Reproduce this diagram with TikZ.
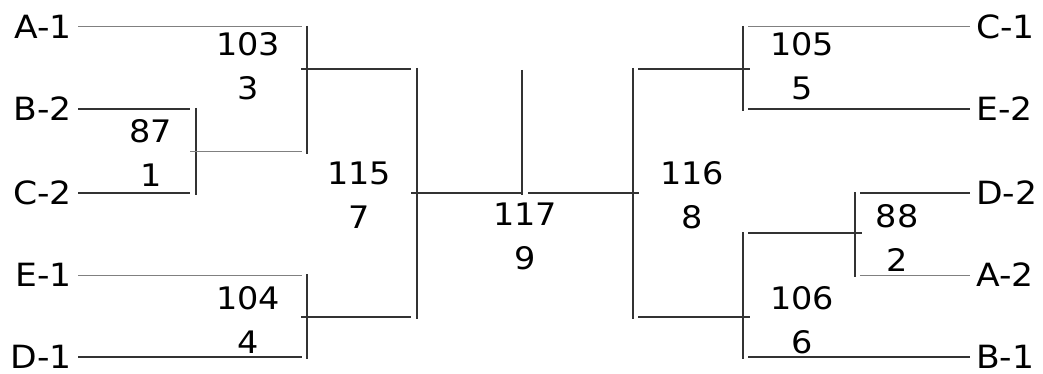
\documentclass[tikz,border=0pt]{standalone}
\usepackage{fontspec}
\setmainfont[FakeStretch=1.08]{DejaVu Sans}
\usetikzlibrary{positioning}

\begin{document}
\begin{tikzpicture}[x=1pt, y=-1pt,
    team/.style={inner xsep=6pt, inner ysep=1pt, font=\fontsize{32}{38}\selectfont},
    score/.style={align=center, inner sep=0pt, font=\fontsize{31}{44}\selectfont},
    bline/.style={draw=black!80, line width=1.1pt},
    lline/.style={draw=black!50, line width=1pt},
    vline/.style={bline, shorten <=-1pt, shorten >=-2pt},
]
    \useasboundingbox (0,0) rectangle (1043,374);

    % teams
    \node[team, anchor=east] (a1) at (78,27) {A-1};
    \node[team, anchor=east] (b2) at (78,109) {B-2};
    \node[team, anchor=east] (c2) at (78,193) {C-2};
    \node[team, anchor=east] (e1) at (78,275) {E-1};
    \node[team, anchor=east] (d1) at (78,357) {D-1};
    \node[team, anchor=west] (c1) at (970,27) {C-1};
    \node[team, anchor=west] (e2) at (970,109) {E-2};
    \node[team, anchor=west] (d2) at (970,193) {D-2};
    \node[team, anchor=west] (a2) at (970,275) {A-2};
    \node[team, anchor=west] (b1) at (970,357) {B-1};

    % scores
    \node[score] (s87) at (151,153) {87\\1};
    \node[score] (s103) at (248,66) {103\\3};
    \node[score] (s104) at (248,320) {104\\4};
    \node[score] (s115) at (359,195) {115\\7};
    \node[score] (s117) at (525,236) {117\\9};
    \node[score] (s116) at (692,195) {116\\8};
    \node[score] (s105) at (802,66) {105\\5};
    \node[score] (s106) at (802,320) {106\\6};
    \node[score] (s88) at (897,238) {88\\2};

    % bracket joints
    \coordinate (m87t) at (196,109); \coordinate (m87b) at (196,193); \coordinate (m87o) at (196,152);
    \coordinate (m103t) at (307,27); \coordinate (m103b) at (307,152); \coordinate (m103o) at (307,69);
    \coordinate (m104t) at (307,275); \coordinate (m104b) at (307,357); \coordinate (m104o) at (307,317);
    \coordinate (m115t) at (417,69); \coordinate (m115b) at (417,317); \coordinate (m115o) at (417,193);
    \coordinate (m117t) at (522,71); \coordinate (m117b) at (522,193);
    \coordinate (m116t) at (633,69); \coordinate (m116b) at (633,317); \coordinate (m116o) at (633,193);
    \coordinate (m105t) at (743,27); \coordinate (m105b) at (743,109); \coordinate (m105o) at (743,69);
    \coordinate (m106t) at (743,233); \coordinate (m106b) at (743,357); \coordinate (m106o) at (743,317);
    \coordinate (m88t) at (855,193); \coordinate (m88b) at (855,275); \coordinate (m88o) at (855,233);

    \foreach \m in {87,103,104,115,117,116,105,106,88}
        \draw[vline] (m\m t) -- (m\m b);

    % left half
    \draw[lline] (a1.east) -- ([xshift=-5pt]m103t);
    \draw[bline] (b2.east) -- ([xshift=-6pt]m87t);
    \draw[bline] (c2.east) -- ([xshift=-6pt]m87b);
    \draw[lline] (e1.east) -- ([xshift=-5pt]m104t);
    \draw[bline] (d1.east) -- ([xshift=-5pt]m104b);
    \draw[lline] ([xshift=-6pt]m87o) -- ([xshift=-5pt]m103b);
    \draw[bline] ([xshift=-6pt]m103o) -- ([xshift=-6pt]m115t);
    \draw[bline] ([xshift=-6pt]m104o) -- ([xshift=-6pt]m115b);
    \draw[bline] ([xshift=-6pt]m115o) -- (m117b);

    % right half
    \draw[bline] ([xshift=6pt]m117b) -- ([xshift=6pt]m116o);
    \draw[bline] ([xshift=5pt]m116t) -- ([xshift=7pt]m105o);
    \draw[bline] ([xshift=5pt]m116b) -- ([xshift=7pt]m106o);
    \draw[lline] ([xshift=5pt]m105t) -- (c1.west);
    \draw[bline] ([xshift=5pt]m105b) -- (e2.west);
    \draw[bline] ([xshift=5pt]m106t) -- ([xshift=7pt]m88o);
    \draw[bline] ([xshift=5pt]m88t) -- (d2.west);
    \draw[lline] ([xshift=5pt]m88b) -- (a2.west);
    \draw[bline] ([xshift=5pt]m106b) -- (b1.west);
\end{tikzpicture}
\end{document}
